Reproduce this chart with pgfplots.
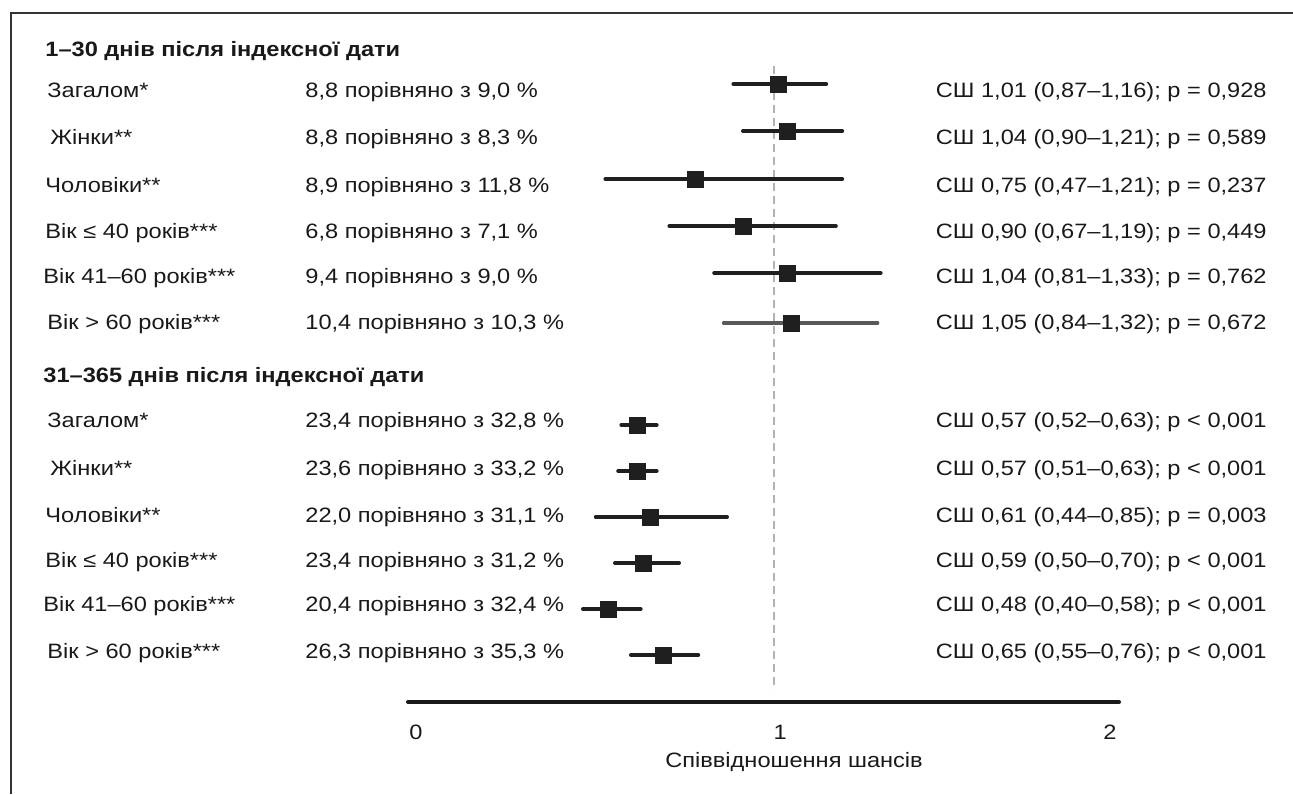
\documentclass[border=0pt]{standalone}
\usepackage{fontspec}
\setmainfont{Liberation Sans}[FakeStretch=1.135]
\usepackage{pgfplots}
\usepackage{pgfplotstable}
\pgfplotsset{compat=1.18}
\pgfplotstableread{
or   lo   hi   y
1.01 0.87 1.16 -84
1.04 0.90 1.21 -131
0.75 0.47 1.21 -179
0.90 0.67 1.19 -226
1.04 0.81 1.33 -273
}\tabUp
\pgfplotstableread{
or   lo   hi   y
1.05 0.84 1.32 -323
}\tabGrey
\pgfplotstableread{
or   lo   hi   y
0.57 0.52 0.63 -425
0.57 0.51 0.63 -471
0.61 0.44 0.85 -517
0.59 0.50 0.70 -563
0.48 0.40 0.58 -609
0.65 0.55 0.76 -655
}\tabLow
\newcommand{\txt}{\fontsize{10.4pt}{12.5pt}\selectfont}
\begin{document}
\begin{tikzpicture}
\path[use as bounding box] (0,0) rectangle (646.5pt,397pt);
\begin{axis}[
  at={(204pt,46pt)}, anchor=south west,
  scale only axis, width=355.5pt, height=331pt,
  xmin=-0.1469, xmax=2.075, ymin=-702, ymax=-40,
  axis x line*=bottom, axis y line=none,
  x axis line style={line width=2pt, line cap=round, -, black!90},
  xtick={-0.122,1.016,2.047}, xticklabels={0,1,2},
  major tick length=0pt,
  xticklabel style={anchor=center, yshift=-15pt, font=\txt, text=black!90},
  xlabel={Співвідношення шансів},
  xlabel style={at={(axis description cs:0.543,0)}, anchor=center, yshift=-30pt, font=\txt, text=black!90},
  clip=false,
]
\addplot[gray!60, line width=1pt, dash pattern=on 4pt off 2.5pt] coordinates {(0.997,-66) (0.997,-690)};
\addplot[only marks, mark=square*, mark size=4pt,
  mark options={fill=black!88, draw=black!88, rounded corners=0.8pt},
  error bars/.cd, x dir=both, x explicit, error mark=none,
  error bar style={line width=2pt, line cap=round, black!88}]
  table[x=or, y=y, x error plus expr=\thisrow{hi}-\thisrow{or}, x error minus expr=\thisrow{or}-\thisrow{lo}] {\tabUp};
\addplot[only marks, mark=square*, mark size=4pt,
  mark options={fill=black!88, draw=black!88, rounded corners=0.8pt},
  error bars/.cd, x dir=both, x explicit, error mark=none,
  error bar style={line width=2pt, line cap=round, black!65}]
  table[x=or, y=y, x error plus expr=\thisrow{hi}-\thisrow{or}, x error minus expr=\thisrow{or}-\thisrow{lo}] {\tabGrey};
\addplot[only marks, mark=square*, mark size=4pt,
  mark options={fill=black!88, draw=black!88, rounded corners=0.8pt},
  error bars/.cd, x dir=both, x explicit, error mark=none,
  error bar style={line width=2pt, line cap=round, black!88}]
  table[x=or, y=y, x error plus expr=\thisrow{hi}-\thisrow{or}, x error minus expr=\thisrow{or}-\thisrow{lo}] {\tabLow};
\end{axis}
\begin{scope}[x=0.5pt, y=-0.5pt, yshift=397pt, every node/.style={inner sep=0pt, font=\txt, text=black!90}]
\draw[line width=1pt, black!80] (11,794) -- (11,13) -- (1293,13);
\node[anchor=base west, font=\txt\bfseries] at (45,57) {1–30 днів після індексної дати};
\node[anchor=base west, font=\txt\bfseries] at (43,382) {31–365 днів після індексної дати};
% upper group
\node[anchor=base west] at (47,98) {Загалом*};
\node[anchor=base west] at (50,145) {Жінки**};
\node[anchor=base west] at (45,192) {Чоловіки**};
\node[anchor=base west] at (45,238) {Вік ≤ 40 років***};
\node[anchor=base west] at (43,283) {Вік 41–60 років***};
\node[anchor=base west] at (47,329) {Вік > 60 років***};
\node[anchor=base west] at (305,98) {8,8 порівняно з 9,0 \%};
\node[anchor=base west] at (305,145) {8,8 порівняно з 8,3 \%};
\node[anchor=base west] at (305,192) {8,9 порівняно з 11,8 \%};
\node[anchor=base west] at (305,238) {6,8 порівняно з 7,1 \%};
\node[anchor=base west] at (305,283) {9,4 порівняно з 9,0 \%};
\node[anchor=base west] at (305,329) {10,4 порівняно з 10,3 \%};
\node[anchor=base east] at (1267,98) {СШ 1,01 (0,87–1,16); p = 0,928};
\node[anchor=base east] at (1267,145) {СШ 1,04 (0,90–1,21); p = 0,589};
\node[anchor=base east] at (1267,192) {СШ 0,75 (0,47–1,21); p = 0,237};
\node[anchor=base east] at (1267,238) {СШ 0,90 (0,67–1,19); p = 0,449};
\node[anchor=base east] at (1267,283) {СШ 1,04 (0,81–1,33); p = 0,762};
\node[anchor=base east] at (1267,329) {СШ 1,05 (0,84–1,32); p = 0,672};
% lower group
\node[anchor=base west] at (47,427) {Загалом*};
\node[anchor=base west] at (50,475) {Жінки**};
\node[anchor=base west] at (45,522) {Чоловіки**};
\node[anchor=base west] at (45,567) {Вік ≤ 40 років***};
\node[anchor=base west] at (43,611) {Вік 41–60 років***};
\node[anchor=base west] at (47,658) {Вік > 60 років***};
\node[anchor=base west] at (305,427) {23,4 порівняно з 32,8 \%};
\node[anchor=base west] at (305,475) {23,6 порівняно з 33,2 \%};
\node[anchor=base west] at (305,522) {22,0 порівняно з 31,1 \%};
\node[anchor=base west] at (305,567) {23,4 порівняно з 31,2 \%};
\node[anchor=base west] at (305,611) {20,4 порівняно з 32,4 \%};
\node[anchor=base west] at (305,658) {26,3 порівняно з 35,3 \%};
\node[anchor=base east] at (1267,427) {СШ 0,57 (0,52–0,63); p < 0,001};
\node[anchor=base east] at (1267,475) {СШ 0,57 (0,51–0,63); p < 0,001};
\node[anchor=base east] at (1267,522) {СШ 0,61 (0,44–0,85); p = 0,003};
\node[anchor=base east] at (1267,567) {СШ 0,59 (0,50–0,70); p < 0,001};
\node[anchor=base east] at (1267,611) {СШ 0,48 (0,40–0,58); p < 0,001};
\node[anchor=base east] at (1267,658) {СШ 0,65 (0,55–0,76); p < 0,001};
\end{scope}
\end{tikzpicture}
\end{document}
